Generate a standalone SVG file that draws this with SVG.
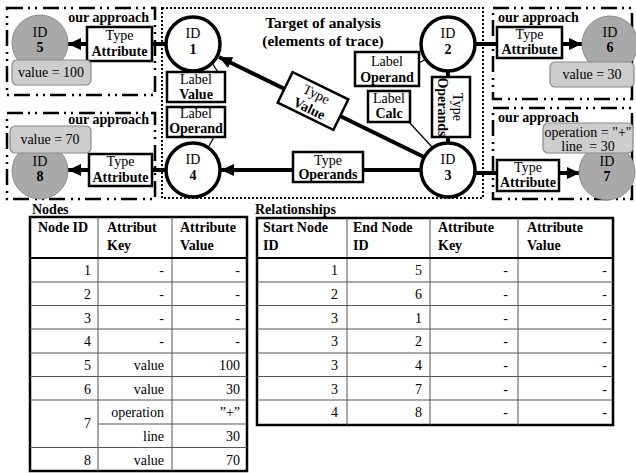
<svg xmlns="http://www.w3.org/2000/svg" width="636" height="473" viewBox="0 0 636 473">
<style>
text{font-family:"Liberation Serif","Times New Roman",serif;font-size:14px;fill:#000}
.b{font-weight:bold}
.c{text-anchor:middle}
.e{text-anchor:end}
.ring{fill:#fff;stroke:#000;stroke-width:3.5}
.gray{fill:#a9a9a9;stroke:#8c8c8c;stroke-width:1}
.val{fill:#cdcdcd;stroke:#8a8a8a;stroke-width:1.2}
.lbl{fill:#fff;stroke:#000;stroke-width:2.5}
.edge{stroke:#000;stroke-width:4;fill:none}
.thin{stroke:#000;stroke-width:1.3;fill:none}
.dd{fill:none;stroke:#000;stroke-width:2.5;stroke-dasharray:16 5 2 5 2 6}
.dot{fill:none;stroke:#000;stroke-width:2;stroke-dasharray:2 2}
.outer{fill:#fff;stroke:#000;stroke-width:2.5}
.grid{stroke:#555;stroke-width:1;fill:none}
.hdr{stroke:#000;stroke-width:2;fill:none}
</style>
<defs>
<marker id="arr" markerUnits="userSpaceOnUse" markerWidth="14" markerHeight="14" refX="13" refY="7" orient="auto">
<path d="M0,1 L13,7 L0,13 z" fill="#000"/>
</marker>
</defs>
<rect width="636" height="473" fill="#fff"/>

<!-- frames -->
<g id="frames">
<rect class="dot" x="162" y="8" width="321" height="190"/>
<rect class="dd" x="7" y="8" width="148" height="87"/>
<rect class="dd" x="7" y="113" width="148" height="86"/>
<rect class="dd" x="493" y="8" width="139" height="91"/>
<rect class="dd" x="493" y="108" width="139" height="91"/>
<text class="b e" x="149" y="22">our approach</text>
<text class="b e" x="149" y="124">our approach</text>
<text class="b" x="498" y="22">our approach</text>
<text class="b" x="498" y="122">our approach</text>
<text class="b c" x="323" y="28" style="font-size:15.4px">Target of analysis</text>
<text class="b c" x="323" y="46" style="font-size:15.4px">(elements of trace)</text>
</g>

<!-- connectors -->
<g id="connectors">
<line class="edge" x1="166" y1="44" x2="68" y2="44" marker-end="url(#arr)"/>
<line class="edge" x1="166" y1="170" x2="68" y2="170" marker-end="url(#arr)"/>
<line class="edge" x1="476" y1="44" x2="582" y2="44" marker-end="url(#arr)"/>
<line class="edge" x1="476" y1="173" x2="580" y2="173" marker-end="url(#arr)"/>
<line class="edge" x1="424" y1="157" x2="219" y2="57" marker-end="url(#arr)"/>
<line class="edge" x1="421" y1="170" x2="221" y2="170" marker-end="url(#arr)"/>
<line class="edge" x1="448" y1="142" x2="448" y2="71" marker-end="url(#arr)"/>
<line class="thin" x1="212" y1="63" x2="218" y2="72"/>
<line class="thin" x1="214" y1="137" x2="209" y2="146"/>
<line class="thin" x1="419" y1="63" x2="426" y2="59"/>
<line class="thin" x1="408" y1="121" x2="432" y2="147"/>
</g>

<!-- edge labels -->
<g id="lbl-attr-5">
<rect class="lbl" x="87" y="27" width="65" height="34"/>
<text class="c" x="119.5" y="40">Type</text>
<text class="b c" x="119.5" y="56">Attribute</text>
</g>
<g id="lbl-attr-8">
<rect class="lbl" x="89" y="154" width="63" height="32"/>
<text class="c" x="120.5" y="166">Type</text>
<text class="b c" x="120.5" y="182">Attribute</text>
</g>
<g id="lbl-attr-6">
<rect class="lbl" x="497" y="27" width="65" height="31"/>
<text class="c" x="529.5" y="39">Type</text>
<text class="b c" x="529.5" y="54">Attribute</text>
</g>
<g id="lbl-attr-7">
<rect class="lbl" x="497" y="160" width="62" height="31"/>
<text class="c" x="528" y="172">Type</text>
<text class="b c" x="528" y="187">Attribute</text>
</g>
<g id="lbl-value" transform="translate(313,101) rotate(26)">
<rect class="lbl" x="-31" y="-17" width="62" height="34"/>
<text class="c" x="0" y="-3">Type</text>
<text class="b c" x="0" y="13">Value</text>
</g>
<g id="lbl-operands-4">
<rect class="lbl" x="293" y="152" width="70" height="30"/>
<text class="c" x="328" y="165">Type</text>
<text class="b c" x="328" y="179">Operands</text>
</g>
<g id="lbl-operands-2">
<rect class="lbl" x="432" y="77" width="38" height="60"/>
<g transform="translate(451,107) rotate(90)">
<text class="c" x="0" y="-2">Type</text>
<text class="b c" x="0" y="13">Operands</text>
</g>
</g>
<g id="label-value">
<rect class="lbl" x="167" y="72" width="58" height="30"/>
<text class="c" x="196" y="84">Label</text>
<text class="b c" x="196" y="99">Value</text>
</g>
<g id="label-operand-4">
<rect class="lbl" x="167" y="107" width="58" height="30"/>
<text class="c" x="196" y="118">Label</text>
<text class="b c" x="196" y="133">Operand</text>
</g>
<g id="label-operand-2">
<rect class="lbl" x="355" y="52" width="64" height="34"/>
<text class="c" x="387" y="66">Label</text>
<text class="b c" x="387" y="82">Operand</text>
</g>
<g id="label-calc">
<rect class="lbl" x="368" y="91" width="42" height="31"/>
<text class="c" x="389" y="103">Label</text>
<text class="b c" x="389" y="118">Calc</text>
</g>

<!-- nodes -->
<g id="node1">
<circle class="ring" cx="193" cy="44" r="27"/>
<text class="c" x="193" y="38">ID</text>
<text class="b c" x="193" y="54">1</text>
</g>
<g id="node2">
<circle class="ring" cx="448" cy="44" r="27"/>
<text class="c" x="448" y="38">ID</text>
<text class="b c" x="448" y="54">2</text>
</g>
<g id="node3">
<circle class="ring" cx="448" cy="170" r="27"/>
<text class="c" x="448" y="164">ID</text>
<text class="b c" x="448" y="180">3</text>
</g>
<g id="node4">
<circle class="ring" cx="193" cy="170" r="27"/>
<text class="c" x="193" y="164">ID</text>
<text class="b c" x="193" y="180">4</text>
</g>
<g id="node5">
<circle class="gray" cx="40" cy="43" r="28"/>
<text class="c" x="40" y="37">ID</text>
<text class="b c" x="40" y="52">5</text>
<rect class="val" x="12" y="60" width="79" height="25" rx="5"/>
<text class="c" x="51" y="77">value = 100</text>
</g>
<g id="node8">
<circle class="gray" cx="40" cy="171" r="28"/>
<text class="c" x="40" y="166">ID</text>
<text class="b c" x="40" y="181">8</text>
<rect class="val" x="10" y="126" width="81" height="27" rx="5"/>
<text class="c" x="50" y="144">value = 70</text>
</g>
<g id="node6">
<circle class="gray" cx="610" cy="44" r="28"/>
<text class="c" x="610" y="37">ID</text>
<text class="b c" x="610" y="52">6</text>
<rect class="val" x="550" y="62" width="84" height="25" rx="5"/>
<text class="c" x="592" y="79">value = 30</text>
</g>
<g id="node7">
<circle class="gray" cx="607" cy="172" r="28"/>
<text class="c" x="607" y="166">ID</text>
<text class="b c" x="607" y="181">7</text>
<rect class="val" x="543" y="123" width="90" height="30" rx="5"/>
<text class="c" x="588" y="137">operation = "+"</text>
<text class="c" x="588" y="151" xml:space="preserve">line  = 30</text>
</g>

<!-- Nodes table -->
<g id="nodes-table">
<text class="b" x="32" y="214">Nodes</text>
<rect class="outer" x="30" y="217" width="217" height="254"/>
<path class="grid" d="M98,217V471M172,217V471M30,282H247M30,305.5H247M30,329H247M30,353H247M30,376.5H247M30,400H247M98,424H247M30,447.5H247"/>
<path class="hdr" d="M30,258H247"/>
<text class="b" x="38" y="232">Node ID</text>
<text class="b" x="107" y="232">Attribut</text>
<text class="b" x="107" y="250">Key</text>
<text class="b" x="180" y="232">Attribute</text>
<text class="b" x="180" y="250">Value</text>
<g class="e">
<text class="e" x="91" y="275">1</text><text class="e" x="164" y="275">-</text><text class="e" x="240" y="275">-</text>
<text class="e" x="91" y="299">2</text><text class="e" x="164" y="299">-</text><text class="e" x="240" y="299">-</text>
<text class="e" x="91" y="322.5">3</text><text class="e" x="164" y="322.5">-</text><text class="e" x="240" y="322.5">-</text>
<text class="e" x="91" y="346">4</text><text class="e" x="164" y="346">-</text><text class="e" x="240" y="346">-</text>
<text class="e" x="91" y="370">5</text><text class="e" x="164" y="370">value</text><text class="e" x="240" y="370">100</text>
<text class="e" x="91" y="393.5">6</text><text class="e" x="164" y="393.5">value</text><text class="e" x="240" y="393.5">30</text>
<text class="e" x="91" y="428">7</text><text class="e" x="164" y="417">operation</text><text class="e" x="240" y="417">”+”</text>
<text class="e" x="164" y="441">line</text><text class="e" x="240" y="441">30</text>
<text class="e" x="91" y="464.5">8</text><text class="e" x="164" y="464.5">value</text><text class="e" x="240" y="464.5">70</text>
</g>
</g>

<!-- Relationships table -->
<g id="relationships-table">
<text class="b" x="255" y="214">Relationships</text>
<rect class="outer" x="257" y="218" width="356" height="207"/>
<path class="grid" d="M347,218V425M430,218V425M518,218V425M257,282H613M257,305.5H613M257,329H613M257,353H613M257,376.5H613M257,400H613"/>
<path class="hdr" d="M257,258H613"/>
<text class="b" x="263" y="232">Start Node</text>
<text class="b" x="263" y="250">ID</text>
<text class="b" x="353" y="232">End Node</text>
<text class="b" x="353" y="250">ID</text>
<text class="b" x="438" y="232">Attribute</text>
<text class="b" x="438" y="250">Key</text>
<text class="b" x="527" y="232">Attribute</text>
<text class="b" x="527" y="250">Value</text>
<text class="e" x="338" y="275">1</text><text class="e" x="422" y="275">5</text><text class="e" x="508" y="275">-</text><text class="e" x="607" y="275">-</text>
<text class="e" x="338" y="299">2</text><text class="e" x="422" y="299">6</text><text class="e" x="508" y="299">-</text><text class="e" x="607" y="299">-</text>
<text class="e" x="338" y="322.5">3</text><text class="e" x="422" y="322.5">1</text><text class="e" x="508" y="322.5">-</text><text class="e" x="607" y="322.5">-</text>
<text class="e" x="338" y="346">3</text><text class="e" x="422" y="346">2</text><text class="e" x="508" y="346">-</text><text class="e" x="607" y="346">-</text>
<text class="e" x="338" y="370">3</text><text class="e" x="422" y="370">4</text><text class="e" x="508" y="370">-</text><text class="e" x="607" y="370">-</text>
<text class="e" x="338" y="393.5">3</text><text class="e" x="422" y="393.5">7</text><text class="e" x="508" y="393.5">-</text><text class="e" x="607" y="393.5">-</text>
<text class="e" x="338" y="417">4</text><text class="e" x="422" y="417">8</text><text class="e" x="508" y="417">-</text><text class="e" x="607" y="417">-</text>
</g>
</svg>
